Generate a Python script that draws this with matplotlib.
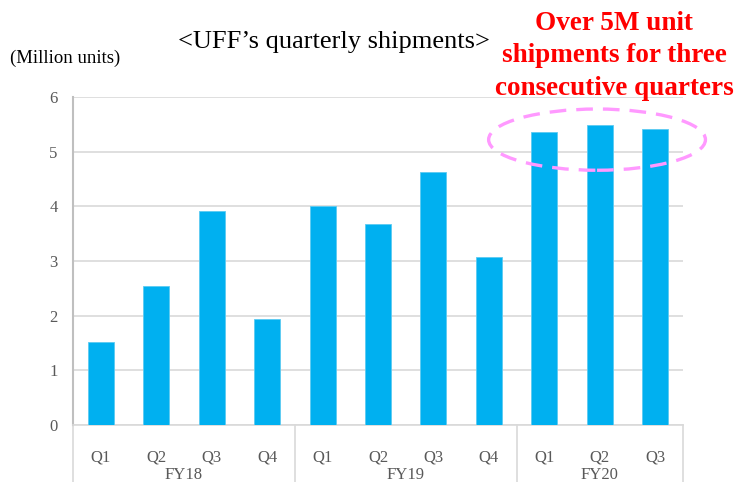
import matplotlib
matplotlib.use('Agg')
import matplotlib.pyplot as plt
from matplotlib.patches import Ellipse
import matplotlib.transforms as mtransforms

# Data
years = ["FY18", "FY19", "FY20"]
quarters = ["Q1", "Q2", "Q3", "Q4", "Q1", "Q2", "Q3", "Q4", "Q1", "Q2", "Q3"]
quarters_per_year = [4, 4, 3]
shipments = [1.51, 2.55, 3.92, 1.94, 4.00, 3.67, 4.63, 3.08, 5.36, 5.48, 5.42]
yticks = [0, 1, 2, 3, 4, 5, 6]

plt.rcParams['font.family'] = ['Liberation Serif', 'DejaVu Serif']

fig = plt.figure(figsize=(7.35, 4.82), dpi=100)
ax = fig.add_axes([73/735, 1-425/482, 610/735, 328/482])

x = list(range(len(shipments)))
ax.bar(x, shipments, width=0.47, color="#00B0F0", edgecolor="#5CCBF2", linewidth=0.6, zorder=3)

ax.set_xlim(-0.5, len(shipments) - 0.5)
ax.set_ylim(0, 6)
ax.set_yticks(yticks)
ax.tick_params(axis='y', length=0, pad=11, labelsize=12, labelcolor="#595959")
ax.set_xticks([])
ax.grid(axis='y', color="#D9D9D9", linewidth=1.2, zorder=0)
for s in ["top", "right"]:
    ax.spines[s].set_visible(False)
ax.spines["left"].set_color("#BFBFBF")
ax.spines["left"].set_linewidth(1.5)
ax.spines["bottom"].set_color("#D9D9D9")
ax.spines["bottom"].set_linewidth(1.2)

# two-level category axis
trans = mtransforms.blended_transform_factory(ax.transData, fig.transFigure)
for i, q in enumerate(quarters):
    ax.text(i, 1-458/482, q, transform=trans, ha='center', va='center',
            fontsize=12, color="#595959")
start = 0
bounds = [-0.5]
for yr, n in zip(years, quarters_per_year):
    mid = start + (n - 1) / 2
    ax.text(mid, 1-475/482, yr, transform=trans, ha='center', va='center',
            fontsize=12, color="#595959")
    start += n
    bounds.append(start - 0.5)
for b in bounds:
    ax.plot([b, b], [1-425/482, 0], transform=trans, color="#D9D9D9",
            linewidth=1.2, clip_on=False)

# titles
fig.text(334/735, 1-42/482, "<UFF\u2019s quarterly shipments>", ha='center', va='center',
         fontsize=19, color="black")
fig.text(10/735, 1-58/482, "(Million units)", ha='left', va='center',
         fontsize=13.5, color="black")
fig.text(614/735, 1-56/482, "Over 5M unit\nshipments for three\nconsecutive quarters",
         ha='center', va='center', fontsize=19.5, fontweight='bold', color="#FF0000",
         linespacing=1.38)

# highlight ellipse
ell = Ellipse((8.95, 5.22), width=3.91, height=1.12, fill=False, edgecolor="#FF99FF",
              linewidth=2.4, linestyle=(0, (5, 3)), zorder=5, clip_on=False)
ax.add_patch(ell)

fig.savefig("out.png", dpi=100)
